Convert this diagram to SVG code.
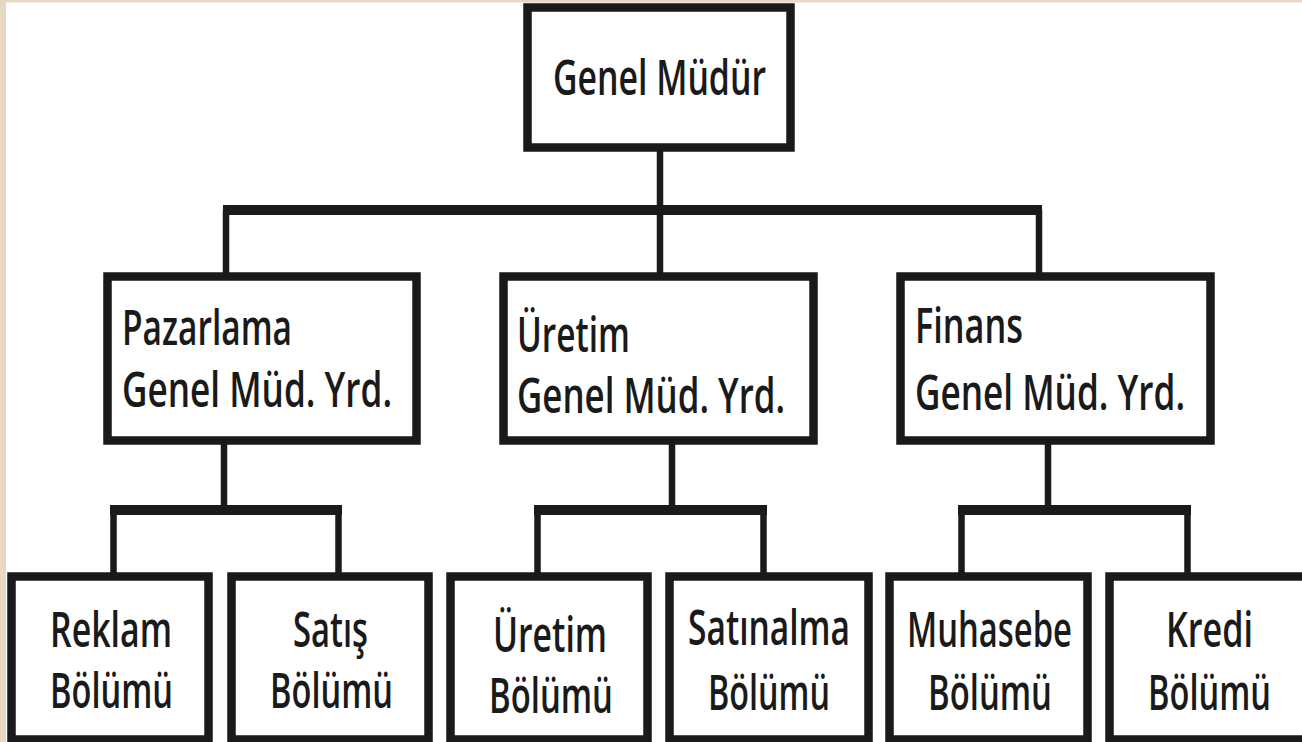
<svg xmlns="http://www.w3.org/2000/svg" width="1302" height="742" viewBox="0 0 1302 742">
<style>
.box{fill:#ffffff;stroke:#1a1a1a;stroke-width:8.5}
.t{font-family:"Open Sans","DejaVu Sans",sans-serif;font-weight:600;font-size:48px;fill:#1a1a1a}
.c{stroke:#1a1a1a;fill:none;stroke-linecap:butt}
.v{stroke-width:6.5}
.h{stroke-width:10}
</style>
<rect x="0" y="0" width="1302" height="742" fill="#ffffff"/>
<rect x="0" y="0" width="6" height="742" fill="#e7d8c4"/>
<rect x="0" y="0" width="1302" height="2.5" fill="#e7d8c4"/>
<g id="connectors" class="c">
<line class="v" x1="660" y1="150" x2="660" y2="274"/>
<line class="h" x1="223" y1="210" x2="1042" y2="210"/>
<line class="v" x1="226" y1="210" x2="226" y2="274"/>
<line class="v" x1="1039" y1="210" x2="1039" y2="274"/>
<line class="v" x1="224" y1="443" x2="224" y2="510"/>
<line class="h" x1="110" y1="510" x2="342" y2="510"/>
<line class="v" x1="113.5" y1="510" x2="113.5" y2="574"/>
<line class="v" x1="338.5" y1="510" x2="338.5" y2="574"/>
<line class="v" x1="672" y1="443" x2="672" y2="510"/>
<line class="h" x1="534" y1="510" x2="767" y2="510"/>
<line class="v" x1="537.5" y1="510" x2="537.5" y2="574"/>
<line class="v" x1="763.5" y1="510" x2="763.5" y2="574"/>
<line class="v" x1="1048" y1="443" x2="1048" y2="510"/>
<line class="h" x1="958" y1="510" x2="1191" y2="510"/>
<line class="v" x1="961.5" y1="510" x2="961.5" y2="574"/>
<line class="v" x1="1187.5" y1="510" x2="1187.5" y2="574"/>
</g>
<g id="genel-mudur">
<rect class="box" x="527.5" y="7.5" width="263" height="140"/>
<text class="t" x="553" y="95" textLength="213" lengthAdjust="spacingAndGlyphs">Genel Müdür</text>
</g>
<g id="pazarlama">
<rect class="box" x="107.5" y="276.5" width="309" height="164"/>
<text class="t" x="122" y="345" textLength="170" lengthAdjust="spacingAndGlyphs">Pazarlama</text>
<text class="t" x="122" y="407" textLength="270" lengthAdjust="spacingAndGlyphs">Genel Müd. Yrd.</text>
</g>
<g id="uretim">
<rect class="box" x="503.5" y="276.5" width="310" height="164"/>
<text class="t" x="517" y="352" textLength="113" lengthAdjust="spacingAndGlyphs">Üretim</text>
<text class="t" x="517" y="413" textLength="268" lengthAdjust="spacingAndGlyphs">Genel Müd. Yrd.</text>
</g>
<g id="finans">
<rect class="box" x="900.5" y="276.5" width="310" height="164"/>
<text class="t" x="915" y="343" textLength="108" lengthAdjust="spacingAndGlyphs">Finans</text>
<text class="t" x="915" y="410" textLength="270" lengthAdjust="spacingAndGlyphs">Genel Müd. Yrd.</text>
</g>
<g id="reklam">
<rect class="box" x="11.5" y="576.5" width="197" height="163"/>
<text class="t" x="50" y="647" textLength="122" lengthAdjust="spacingAndGlyphs">Reklam</text>
<text class="t" x="50" y="708" textLength="123" lengthAdjust="spacingAndGlyphs">Bölümü</text>
</g>
<g id="satis">
<rect class="box" x="231.5" y="576.5" width="197" height="163"/>
<text class="t" x="293" y="647" textLength="75" lengthAdjust="spacingAndGlyphs">Satış</text>
<text class="t" x="270" y="708" textLength="123" lengthAdjust="spacingAndGlyphs">Bölümü</text>
</g>
<g id="uretim-bolumu">
<rect class="box" x="450.5" y="576.5" width="197" height="163"/>
<text class="t" x="493" y="652" textLength="114" lengthAdjust="spacingAndGlyphs">Üretim</text>
<text class="t" x="489" y="713" textLength="124" lengthAdjust="spacingAndGlyphs">Bölümü</text>
</g>
<g id="satinalma">
<rect class="box" x="669.5" y="576.5" width="199" height="163"/>
<text class="t" x="688" y="645" textLength="162" lengthAdjust="spacingAndGlyphs">Satınalma</text>
<text class="t" x="708" y="710" textLength="122" lengthAdjust="spacingAndGlyphs">Bölümü</text>
</g>
<g id="muhasebe">
<rect class="box" x="889.5" y="576.5" width="198" height="163"/>
<text class="t" x="907" y="647" textLength="165" lengthAdjust="spacingAndGlyphs">Muhasebe</text>
<text class="t" x="928" y="710" textLength="124" lengthAdjust="spacingAndGlyphs">Bölümü</text>
</g>
<g id="kredi">
<rect class="box" x="1109.5" y="576.5" width="200" height="163"/>
<text class="t" x="1166" y="647" textLength="87" lengthAdjust="spacingAndGlyphs">Kredi</text>
<text class="t" x="1148" y="710" textLength="123" lengthAdjust="spacingAndGlyphs">Bölümü</text>
</g>
</svg>
